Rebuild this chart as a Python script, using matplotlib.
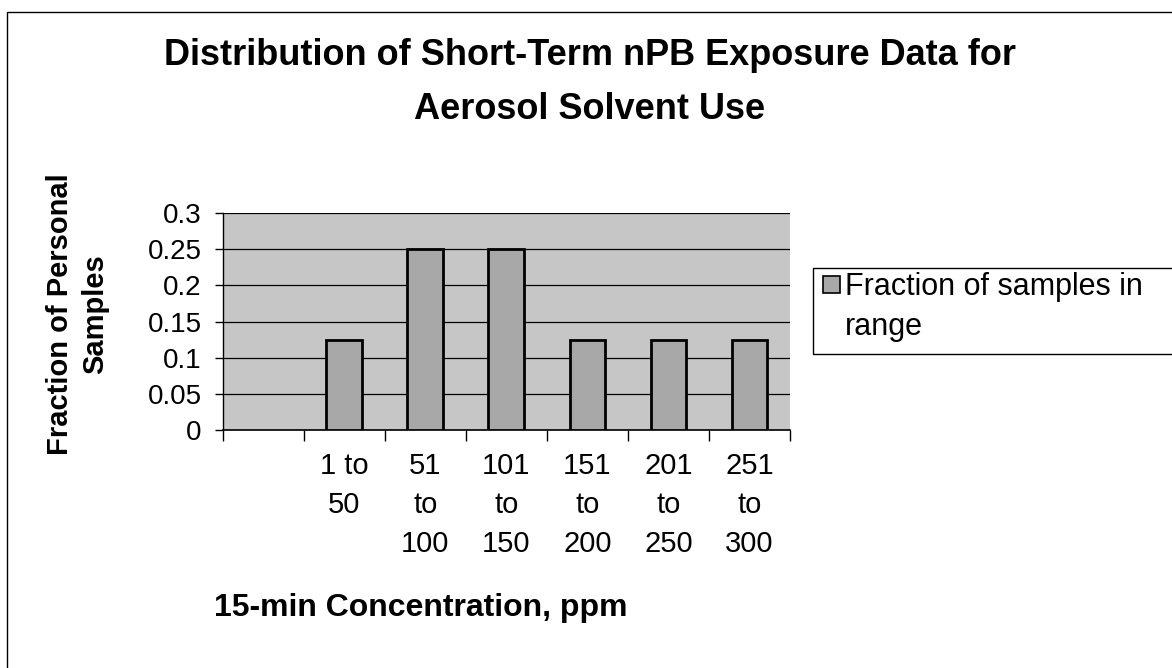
import numpy as np
from matplotlib import pyplot as plt
from matplotlib.patches import Rectangle

categories = ['', '1 to\n50', '51\nto\n100', '101\nto\n150', '151\nto\n200', '201\nto\n250', '251\nto\n300']
fractions = [0, 0.125, 0.25, 0.25, 0.125, 0.125, 0.125]
y_ticks = [0, 0.05, 0.1, 0.15, 0.2, 0.25, 0.3]
y_tick_labels = ['0', '0.05', '0.1', '0.15', '0.2', '0.25', '0.3']
series_name = 'Fraction of samples in\nrange'

plt.rcParams['font.family'] = ['Liberation Sans', 'DejaVu Sans']

fig = plt.figure(figsize=(11.72, 6.68), dpi=100)
ax = fig.add_axes([0.190, 0.356, 0.484, 0.325])
ax.set_facecolor('#c6c6c6')

x = np.arange(len(categories))
ax.bar(x[1:], fractions[1:], width=0.44, color='#a8a8a8', edgecolor='black',
       linewidth=2, zorder=3)

ax.set_xlim(-0.5, len(categories) - 0.5)
ax.set_ylim(0, 0.3)
ax.set_yticks(y_ticks)
ax.set_yticklabels(y_tick_labels)
ax.yaxis.grid(True, color='black', linewidth=0.9, zorder=1)
ax.set_axisbelow(True)

# tick marks at category boundaries, labels at centres
ax.set_xticks(np.arange(len(categories) + 1) - 0.5)
ax.set_xticklabels([])
ax.set_xticks(x, minor=True)
ax.set_xticklabels(categories, minor=True, fontsize=21, linespacing=1.5, va='top')
ax.tick_params(axis='x', which='major', length=8, width=1, direction='out')
ax.tick_params(axis='x', which='minor', length=0, pad=16)
ax.tick_params(axis='y', length=6, width=1, labelsize=20, pad=9)

for s in ['top', 'right']:
    ax.spines[s].set_visible(False)
ax.spines['left'].set_linewidth(1)
ax.spines['bottom'].set_linewidth(1.2)

fig.text(0.503, 0.876, 'Distribution of Short-Term nPB Exposure Data for\nAerosol Solvent Use',
         ha='center', va='center', fontsize=26, fontweight='bold', linespacing=1.7)
fig.text(0.066, 0.53, 'Fraction of Personal\nSamples', rotation=90, ha='center', va='center',
         fontsize=21, fontweight='bold', linespacing=1.35)
fig.text(0.359, 0.09, '15-min Concentration, ppm', ha='center', va='center',
         fontsize=23, fontweight='bold')

# legend box, running off the right edge as in the original
fig.patches.append(Rectangle((0.694, 0.47), 0.4, 0.129, transform=fig.transFigure,
                             fill=False, edgecolor='black', linewidth=1))
fig.patches.append(Rectangle((0.702, 0.562), 0.0145, 0.0254, transform=fig.transFigure,
                             facecolor='#a8a8a8', edgecolor='black', linewidth=1.2))
fig.text(0.721, 0.54, series_name, ha='left', va='center', fontsize=22, linespacing=1.45)

fig.patches.append(Rectangle((0.006, -0.1), 1.2, 1.082, transform=fig.transFigure,
                             fill=False, edgecolor='black', linewidth=1))

plt.savefig('out.png', dpi=100)
plt.close()
